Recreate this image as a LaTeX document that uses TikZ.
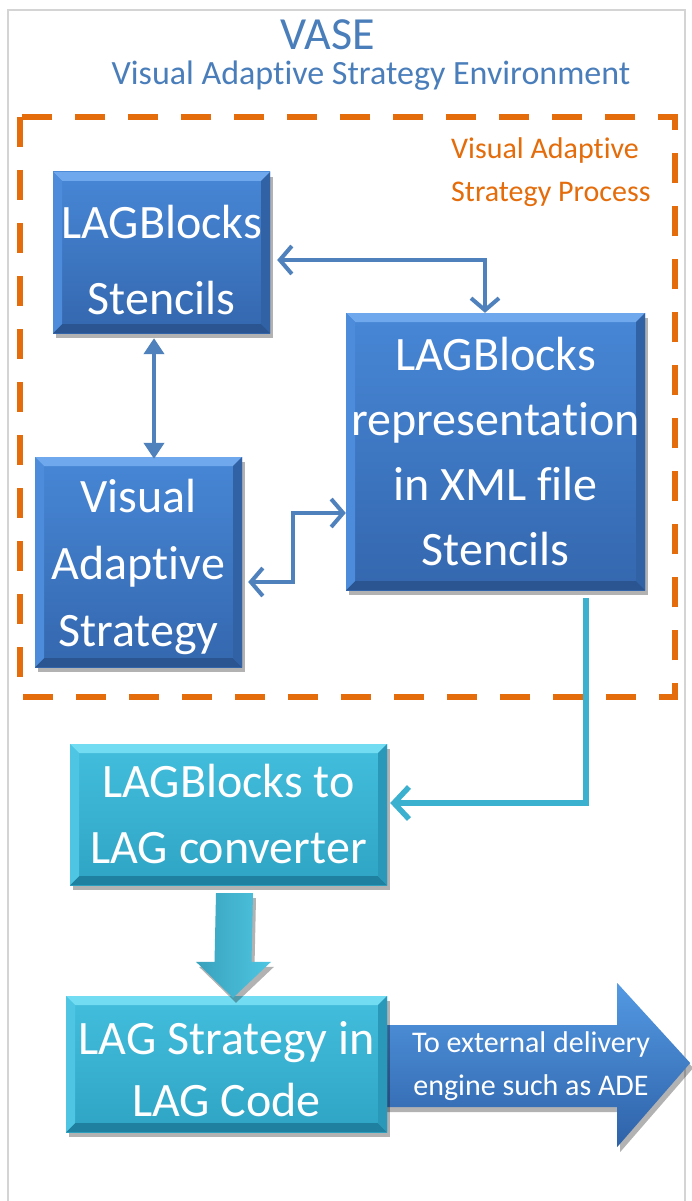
\documentclass[tikz,border=0pt]{standalone}
\usepackage{fontspec}
\setmainfont{Carlito}[RawFeature=-liga,RawFeature=-clig,RawFeature=-calt,RawFeature=-dlig]
\usetikzlibrary{arrows.meta,shadows,calc,backgrounds}
\definecolor{titleblue}{HTML}{4A7EBB}
\definecolor{connblue}{HTML}{4F81BD}
\definecolor{conncyan}{HTML}{3BB0CF}
\definecolor{vorange}{HTML}{E46C0A}
\definecolor{frame}{HTML}{D4D4D4}
\definecolor{bbtop}{HTML}{4787D6}
\definecolor{bbbot}{HTML}{3467AE}
\definecolor{bblight}{HTML}{6FA8EC}
\definecolor{bbdark}{HTML}{2A5590}
\definecolor{bbleft}{HTML}{4C8CDA}
\definecolor{bbright}{HTML}{3262A6}
\definecolor{cbtop}{HTML}{43BEDD}
\definecolor{cbbot}{HTML}{2FA4C4}
\definecolor{cblight}{HTML}{72DCF2}
\definecolor{cbdark}{HTML}{1F809F}
\definecolor{cbleft}{HTML}{4EC6E3}
\definecolor{cbright}{HTML}{2A98B8}
\definecolor{arrtop}{HTML}{5399E3}
\definecolor{arrbot}{HTML}{2E62A8}
\newcommand{\lowr}[2]{\raisebox{-#1}[\height][\depth]{#2}}
\tikzset{
  bevel/.style n args={4}{path picture={
    \coordinate (bbnw) at (path picture bounding box.north west);
    \coordinate (bbne) at (path picture bounding box.north east);
    \coordinate (bbsw) at (path picture bounding box.south west);
    \coordinate (bbse) at (path picture bounding box.south east);
    \fill[#1] (bbnw) -- (bbne) -- ($(bbne)+(-9pt,-9pt)$) -- ($(bbnw)+(9pt,-9pt)$) -- cycle;
    \fill[#2] (bbsw) -- (bbse) -- ($(bbse)+(-9pt,9pt)$) -- ($(bbsw)+(9pt,9pt)$) -- cycle;
    \fill[#3] (bbnw) -- ($(bbnw)+(9pt,-9pt)$) -- ($(bbsw)+(9pt,9pt)$) -- (bbsw) -- cycle;
    \fill[#4] (bbne) -- ($(bbne)+(-9pt,-9pt)$) -- ($(bbse)+(-9pt,9pt)$) -- (bbse) -- cycle;
  }},
  boxshadow/.style={drop shadow={shadow xshift=3pt,shadow yshift=-5pt,opacity=0.3,fill=black}},
  basebox/.style={rectangle, inner sep=0pt, draw=none, text=white, align=center,
    font=\fontsize{48}{66}\selectfont, boxshadow},
  bluebox/.style={basebox, top color=bbtop, bottom color=bbbot,
    bevel={bblight}{bbdark}{bbleft}{bbright}},
  cyanbox/.style={basebox, top color=cbtop, bottom color=cbbot,
    bevel={cblight}{cbdark}{cbleft}{cbright}},
  Chev/.tip={Straight Barb[length=12pt,width=28pt]},
  ChevC/.tip={Straight Barb[length=15pt,width=32pt]},
  Tri/.tip={Triangle[length=16pt,width=20pt]},
  bconn/.style={draw=connblue, line width=4pt},
  cconn/.style={draw=conncyan, line width=5.5pt},
}
\begin{document}
\begin{tikzpicture}[x=1pt,y=-1pt]
\useasboundingbox (0,0) rectangle (691,1201);

% titles
\node[anchor=base, inner sep=0pt, text=titleblue, font=\fontsize{46}{46}\selectfont] (title) at (328,50) {VASE};
\node[anchor=base, inner sep=0pt, text=titleblue, font=\fontsize{34}{34}\selectfont] (subtitle) at (371,85) {Visual Adaptive Strategy Environment};

% process frame
\draw[vorange, line width=6pt, dash pattern=on 30pt off 23pt] (20,117) rectangle (675,697);
\node[anchor=north west, inner sep=0pt, align=left, text=vorange, font=\fontsize{30}{43}\selectfont] (proc) at (451,137) {Visual Adaptive\\Strategy Process};

% boxes
\node[bluebox, minimum width=217pt, minimum height=161pt, font=\fontsize{48}{76}\selectfont] (stencils) at (161.5,252.5) {\lowr{8pt}{LAGBlocks}\\\lowr{8pt}{Stencils}};
\node[bluebox, minimum width=299pt, minimum height=277pt, font=\fontsize{48}{65}\selectfont] (xml) at (495.5,451.5) {LAGBlocks\\representation\\in XML file\\Stencils};
\node[bluebox, minimum width=207pt, minimum height=210pt, font=\fontsize{48}{67}\selectfont] (visual) at (138.5,562) {\lowr{5pt}{Visual}\\\lowr{5pt}{Adaptive}\\\lowr{5pt}{Strategy}};
\node[cyanbox, minimum width=317pt, minimum height=141pt] (converter) at (228.5,814.5) {LAGBlocks to\\LAG converter};
\node[cyanbox, minimum width=321pt, minimum height=136pt, font=\fontsize{48}{62}\selectfont] (code) at (226.5,1064) {\lowr{5pt}{LAG Strategy in}\\\lowr{5pt}{LAG Code}};

% background: frame and big right arrow
\begin{scope}[on background layer]
\fill[white] (0,0) rectangle (691,1201);
\draw[frame, line width=2pt] (8,10) rectangle (685,1210);
\path[top color=arrtop, bottom color=arrbot, boxshadow]
  ($(code.east)+(-17pt,39pt)$) -- ($(code.east)+(230pt,39pt)$) -- ($(code.east)+(230pt,81pt)$)
  -- ($(code.east)+(303pt,1pt)$) -- ($(code.east)+(230pt,-83pt)$) -- ($(code.east)+(230pt,-43pt)$)
  -- ($(code.east)+(-17pt,-43pt)$) -- cycle;
\end{scope}
\node[align=center, inner sep=0pt, text=white, font=\fontsize{30}{43}\selectfont] (ratext) at (531,1066) {To external delivery\\engine such as ADE};

% connectors
\draw[bconn, Chev-Chev] ([xshift=7pt,yshift=-7.5pt]stencils.east) -| ([xshift=-10.5pt]xml.north);
\draw[bconn, Tri-Tri] ([xshift=-7.5pt,yshift=-5pt]stencils.south) -- ([xshift=15.5pt,yshift=-2pt]visual.north);
\coordinate (elb) at (293,547);
\draw[bconn, Chev-Chev] ([xshift=6pt,yshift=-20pt]visual.east) -| (elb) |- ([yshift=-61.5pt]xml.west);
\draw[cconn, -ChevC] ([xshift=90.5pt,yshift=-8pt]xml.south) |- ([xshift=3pt,yshift=11.5pt]converter.east);

% big down arrow
\coordinate (datop) at ([xshift=6pt,yshift=-8pt]converter.south);
\coordinate (datip) at ([xshift=6.5pt,yshift=-2pt]code.north);
\path[left color=cbtop!85!black, right color=cbleft, boxshadow]
  ($(datop)+(-18.5pt,0pt)$) -- ($(datop)+(18.5pt,0pt)$) -- ($(datip)+(18.5pt,36pt)$)
  -- ($(datip)+(38pt,36pt)$) -- (datip) -- ($(datip)+(-37pt,36pt)$) -- ($(datip)+(-18.5pt,36pt)$) -- cycle;
\end{tikzpicture}
\end{document}
